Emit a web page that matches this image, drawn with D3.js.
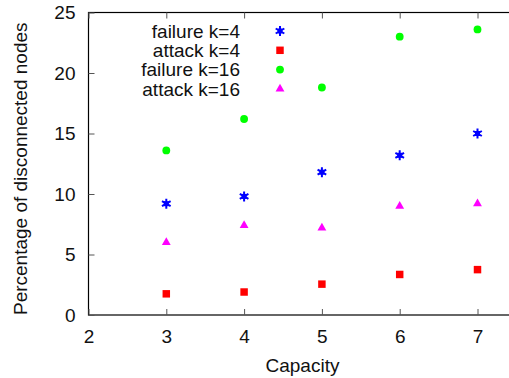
<!DOCTYPE html>
<html>
<head>
<meta charset="utf-8">
<script src="https://cdn.jsdelivr.net/npm/d3@7"></script>
<style>
  html, body { margin: 0; padding: 0; background: #fff; }
  svg { display: block; }
</style>
</head>
<body>
<svg id="chart" width="509" height="378"></svg>
<script>
// Capacity values on the x axis
const capacities = [3, 4, 5, 6, 7];

// Percentage of disconnected nodes, one array per series
const failureK4 = [9.2, 9.8, 11.8, 13.2, 15.0];
const attackK4 = [1.75, 1.9, 2.55, 3.35, 3.75];
const failureK16 = [13.6, 16.2, 18.8, 23.0, 23.6];
const attackK16 = [6.0, 7.4, 7.2, 9.0, 9.2];

const seriesNames = ['failure k=4', 'attack k=4', 'failure k=16', 'attack k=16'];
const xTicks = [2, 3, 4, 5, 6, 7];
const yTicks = [0, 5, 10, 15, 20, 25];

const series = [
  { name: seriesNames[0], values: failureK4, color: '#0000ff', shape: 'star' },
  { name: seriesNames[1], values: attackK4, color: '#ff0000', shape: 'square' },
  { name: seriesNames[2], values: failureK16, color: '#00ff00', shape: 'circle' },
  { name: seriesNames[3], values: attackK16, color: '#ff00ff', shape: 'triangle' },
];

const FONT = '"Liberation Sans", Arial, sans-serif';
const FONT_SIZE = '19px';
const TICK = 6;

const svg = d3.select('#chart');
const plot = { left: 88.5, top: 12.5, bottom: 315 };

// x = 7 sits near the right edge, the frame runs off the canvas
const xScale = d3.scaleLinear().domain([2, 7.5]).range([plot.left, plot.left + 5.5 * 77.8]);
const yScale = d3.scaleLinear().domain([0, 25]).range([plot.bottom, plot.top]);

// Frame
svg.append('rect')
  .attr('x', xScale(2))
  .attr('y', yScale(25))
  .attr('width', xScale(7.5) - xScale(2))
  .attr('height', yScale(0) - yScale(25))
  .attr('fill', 'none')
  .attr('stroke', '#000')
  .attr('stroke-width', 1.2);

const styleAxis = (axis) => {
  axis.select('.domain').remove();
  axis.selectAll('.tick line').attr('stroke', '#555').attr('stroke-width', 1);
  axis.selectAll('.tick text')
    .attr('fill', '#111')
    .style('font-family', FONT)
    .style('font-size', FONT_SIZE);
};

// Bottom axis, ticks pointing inward
svg.append('g')
  .attr('transform', `translate(0,${plot.bottom})`)
  .call(d3.axisBottom(xScale).tickValues(xTicks).tickSize(-TICK).tickPadding(15).tickFormat(d3.format('d')))
  .call(styleAxis);

// Mirrored top ticks
svg.append('g')
  .attr('transform', `translate(0,${plot.top})`)
  .call(d3.axisTop(xScale).tickValues(xTicks).tickSize(-TICK).tickFormat(() => ''))
  .call(styleAxis);

// Left axis
svg.append('g')
  .attr('transform', `translate(${plot.left},0)`)
  .call(d3.axisLeft(yScale).tickValues(yTicks).tickSize(-TICK).tickPadding(13).tickFormat(d3.format('d')))
  .call(styleAxis);

// Axis titles
svg.append('text')
  .attr('x', (xScale(2) + xScale(7.5)) / 2)
  .attr('y', 372)
  .attr('text-anchor', 'middle')
  .attr('fill', '#111')
  .style('font-family', FONT)
  .style('font-size', FONT_SIZE)
  .text('Capacity');

svg.append('text')
  .attr('transform', `translate(27,${(plot.top + plot.bottom) / 2 + 5}) rotate(-90)`)
  .attr('text-anchor', 'middle')
  .attr('fill', '#111')
  .style('font-family', FONT)
  .style('font-size', FONT_SIZE)
  .text('Percentage of disconnected nodes');

const drawMarker = (sel, shape, color) => {
  if (shape === 'star') {
    sel.append('rect')
      .attr('x', -2.5).attr('y', -2.5).attr('width', 5).attr('height', 5)
      .attr('fill', color);
    sel.append('path')
      .attr('d', d3.symbol(d3.symbolAsterisk, 70)())
      .attr('fill', 'none')
      .attr('stroke', color)
      .attr('stroke-width', 2);
  } else if (shape === 'square') {
    sel.append('path').attr('d', d3.symbol(d3.symbolSquare, 56)()).attr('fill', color);
  } else if (shape === 'circle') {
    sel.append('path').attr('d', d3.symbol(d3.symbolCircle, 48)()).attr('fill', color);
  } else {
    sel.append('path').attr('d', d3.symbol(d3.symbolTriangle, 34)()).attr('fill', color);
  }
};

// Points
series.forEach((s) => {
  s.values.forEach((v, i) => {
    const g = svg.append('g')
      .attr('transform', `translate(${xScale(capacities[i])},${yScale(v)})`);
    drawMarker(g, s.shape, s.color);
  });
});

// Legend
series.forEach((s, i) => {
  const y = 31 + i * 19.3;
  svg.append('text')
    .attr('x', 240)
    .attr('y', y)
    .attr('dy', '0.35em')
    .attr('text-anchor', 'end')
    .attr('fill', '#111')
    .style('font-family', FONT)
    .style('font-size', FONT_SIZE)
    .text(s.name);
  const g = svg.append('g').attr('transform', `translate(280,${y})`);
  drawMarker(g, s.shape, s.color);
});
</script>
</body>
</html>
